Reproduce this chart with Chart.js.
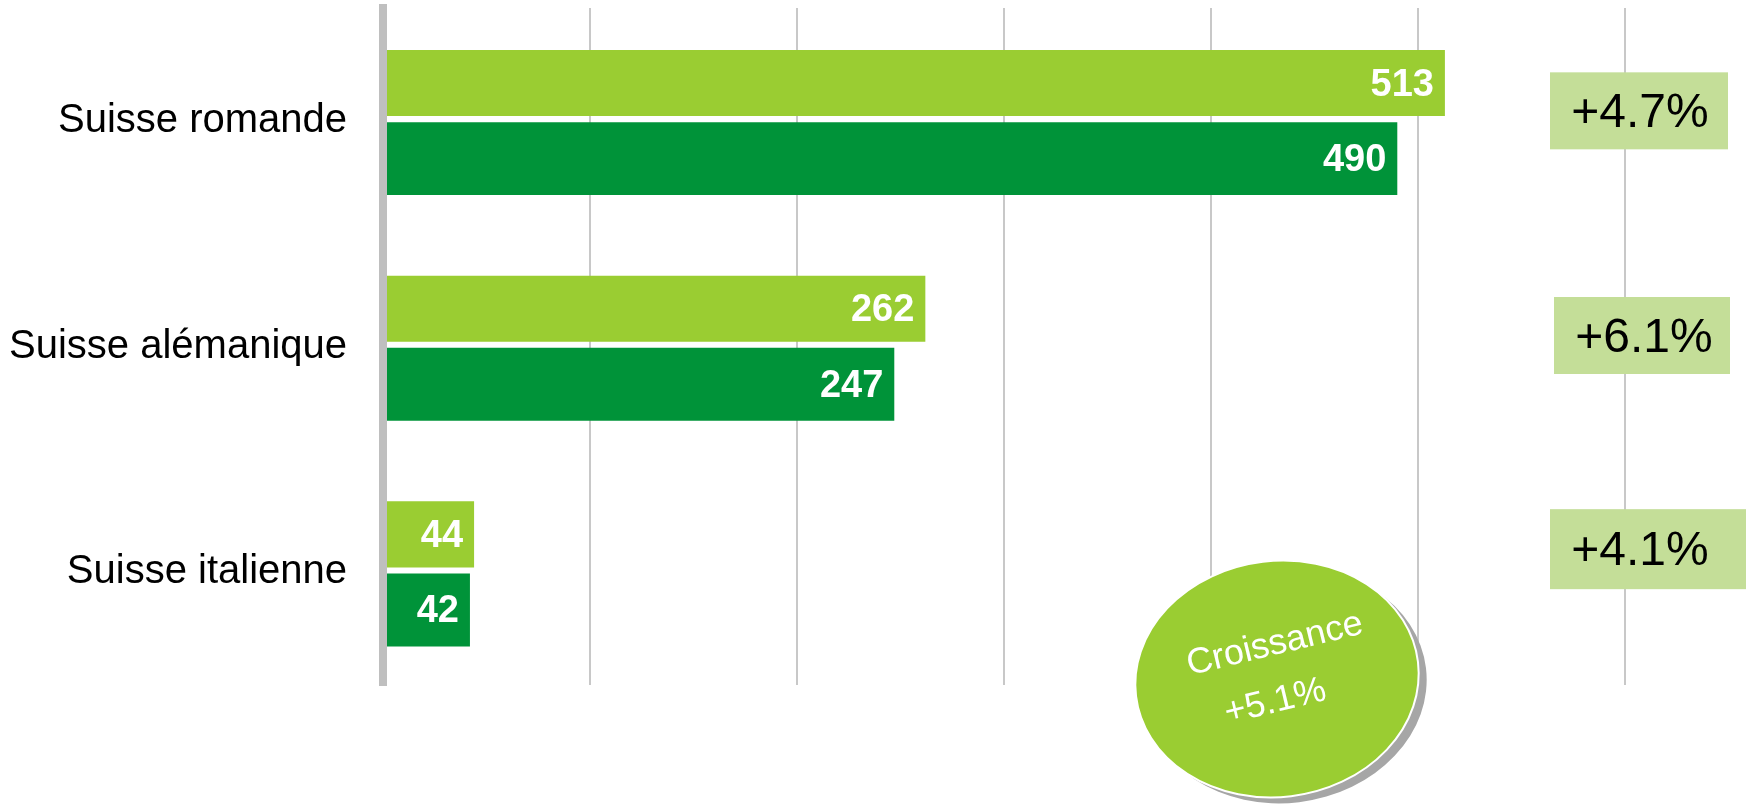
<!DOCTYPE html>
<html>
<head>
<meta charset="utf-8">
<script src="https://cdn.jsdelivr.net/npm/chart.js@4.4.1/dist/chart.umd.min.js"></script>
<style>
    body { margin: 0; background: #fff; }
    #chart { display: block; }
</style>
</head>
<body>
<canvas id="chart" width="1746" height="804"></canvas>
<script>
// data
const categories = ['Suisse romande', 'Suisse alémanique', 'Suisse italienne'];
const valuesCurrent = [513, 262, 44];
const valuesPrevious = [490, 247, 42];
const growthLabels = ['+4.7%', '+6.1%', '+4.1%'];
const totalGrowth = ['Croissance', '+5.1%'];
const axisMin = 0, axisMax = 600, axisStep = 100;

const FONT = '"Liberation Sans", Arial, sans-serif';
const LIGHT = '#9ACD32';
const DARK = '#009339';

// value labels inside the end of each bar
const barLabels = {
    id: 'barLabels',
    afterDatasetsDraw(chart) {
        const ctx = chart.ctx;
        ctx.save();
        ctx.font = 'bold 38px ' + FONT;
        ctx.fillStyle = '#fff';
        ctx.textAlign = 'right';
        ctx.textBaseline = 'middle';
        chart.data.datasets.forEach((ds, i) => {
            chart.getDatasetMeta(i).data.forEach((bar, j) => {
                ctx.fillText(ds.data[j], bar.x - 11, bar.y + 2);
            });
        });
        ctx.restore();
    }
};

// growth boxes on the right and the round badge
const growthBoxes = {
    id: 'growthBoxes',
    afterDraw(chart) {
        const ctx = chart.ctx;
        const x = chart.scales.x, y = chart.scales.y;
        const offsets = [-10, -11, -23];
        const widths = [178, 176, 200];
        const heights = [77, 77, 80];
        ctx.save();
        growthLabels.forEach((txt, i) => {
            const cy = y.getPixelForValue(i) + offsets[i];
            const left = x.getPixelForValue(axisMax) - 75 + (i == 1 ? 4 : 0);
            ctx.fillStyle = '#C4DE98';
            ctx.fillRect(left, cy - heights[i] / 2, widths[i], heights[i]);
            ctx.fillStyle = '#000';
            ctx.font = '48px ' + FONT;
            ctx.textAlign = 'center';
            ctx.textBaseline = 'middle';
            ctx.fillText(txt, left + 90, cy + 3);
        });

        // badge
        const ex = 1277, ey = 679, rot = -0.12;
        ctx.fillStyle = '#A6A6A6';
        ctx.beginPath();
        ctx.ellipse(ex + 8, ey + 6, 142, 118, rot, 0, Math.PI * 2);
        ctx.fill();
        ctx.fillStyle = LIGHT;
        ctx.strokeStyle = '#fff';
        ctx.lineWidth = 2;
        ctx.beginPath();
        ctx.ellipse(ex, ey, 142, 118, rot, 0, Math.PI * 2);
        ctx.fill();
        ctx.stroke();

        ctx.translate(ex, ey);
        ctx.rotate(-0.236);
        ctx.fillStyle = '#fff';
        ctx.font = '36px ' + FONT;
        ctx.textAlign = 'center';
        ctx.textBaseline = 'middle';
        ctx.fillText(totalGrowth[0], 6, -34);
        ctx.fillText(totalGrowth[1], -7, 22);
        ctx.restore();
    }
};

new Chart(document.getElementById('chart'), {
    type: 'bar',
    data: {
        labels: categories,
        datasets: [
            { data: valuesCurrent, backgroundColor: LIGHT, barPercentage: 0.875, categoryPercentage: 0.67 },
            { data: valuesPrevious, backgroundColor: DARK, barPercentage: 0.965, categoryPercentage: 0.67 }
        ]
    },
    options: {
        indexAxis: 'y',
        responsive: false,
        animation: false,
        layout: { padding: { left: 0, right: 121, top: 8, bottom: 119 } },
        plugins: {
            legend: { display: false },
            tooltip: { enabled: false }
        },
        scales: {
            x: {
                min: axisMin,
                max: axisMax,
                ticks: { display: false, stepSize: axisStep },
                grid: { color: '#C8C8C8', lineWidth: 2, drawTicks: false },
                border: { display: false }
            },
            y: {
                ticks: { color: '#000', font: { family: FONT, size: 40 }, padding: 36 },
                grid: { display: false, drawTicks: false },
                border: { display: true, color: '#BFBFBF', width: 8, z: 1 },
                afterFit(scale) {
                    scale.width = 383;
                    scale.paddingTop = 0;
                    scale.paddingBottom = 0;
                }
            }
        }
    },
    plugins: [barLabels, growthBoxes]
});
</script>
</body>
</html>
